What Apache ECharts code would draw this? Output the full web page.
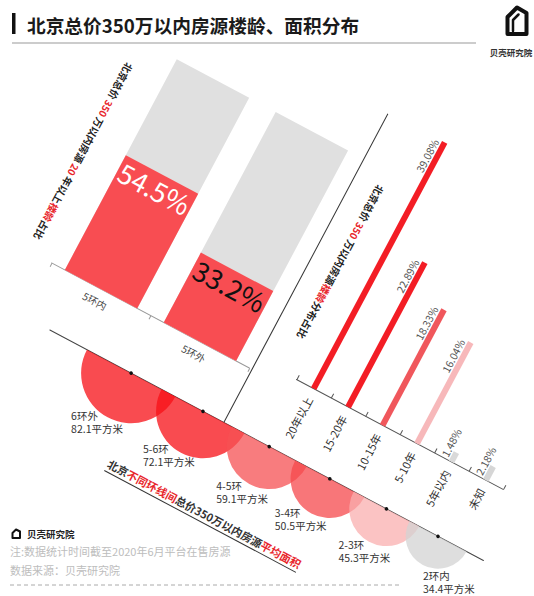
<!DOCTYPE html>
<html><head><meta charset="utf-8">
<script src="https://cdn.jsdelivr.net/npm/echarts@6/dist/echarts.min.js"></script>
<style>
html,body{margin:0;padding:0;width:534px;height:596px;overflow:hidden;background:#fff;}
#base{position:absolute;left:0;top:0;width:534px;height:596px;}
#rot{position:absolute;left:135.24px;top:-41.34px;width:620px;height:500px;transform-origin:0 0;transform:rotate(28deg);}
</style></head><body>
<div id="base"></div><div id="rot"></div>
<script>
// ---------------- data ----------------
const TITLE = '北京总价350万以内房源楼龄、面积分布';
const ringCategories = ['5环内', '5环外'];
const oldShare = [54.5, 33.2];                       // % of listings with building age > 20 years
const ageCategories = ['20年以上', '15-20年', '10-15年', '5-10年', '5年以内', '未知'];
const ageShare = [39.08, 22.89, 18.33, 16.04, 1.48, 2.18];
const areaRings = ['6环外', '5-6环', '4-5环', '3-4环', '2-3环', '2环内'];
const areaValues = [82.1, 72.1, 59.1, 50.5, 45.3, 34.4];  // 平方米

// ---------------- style / layout ----------------
const FONT = '"Noto Sans CJK SC", "Noto Sans", sans-serif';
const RED = '#e8262c';
const TH = 28 * Math.PI / 180, COS = Math.cos(TH), SIN = Math.sin(TH);
const ageColors = ['#f31d25', '#f31d25', '#f0575c', '#f7b8ba', '#d9d9d9', '#d6d6d6'];
const areaColors = ['rgba(247,15,22,0.75)', 'rgba(247,15,22,0.75)', 'rgba(245,80,83,0.75)',
                    'rgba(245,72,76,0.75)', 'rgba(250,175,175,0.75)', 'rgba(211,211,211,0.75)'];
const labelShift = [[-60, 36], [-60, 31], [-53, 32], [-55, 27], [-48, 29], [-15, 33]];

// semicircle area ~ value: radius ~ sqrt(value); circles overlap slightly
const radii = areaValues.map(v => 5.52 * Math.sqrt(v));
const centers = [];
let acc = 42;
radii.forEach((r, i) => { acc += (i === 0 ? r : 0.84 * (radii[i - 1] + r)); centers.push(acc); });

// ---------------- base (unrotated) ----------------
const base = echarts.init(document.getElementById('base'), null, { renderer: 'svg' });
base.setOption({
  backgroundColor: '#fff',
  animation: false,
  graphic: [
    { type: 'rect', shape: { x: 12, y: 13, width: 3.5, height: 21 }, style: { fill: '#111' } },
    { type: 'text', x: 27, y: 24, style: { text: TITLE, fill: '#1a1a1a', font: 'bold 18.7px ' + FONT, verticalAlign: 'middle' } },
    { type: 'line', shape: { x1: 12, y1: 43, x2: 476, y2: 43 }, style: { stroke: '#999', lineWidth: 1 } },
    { type: 'polygon', shape: { points: [[507.5, 34], [507.5, 17], [517, 7.5], [526.5, 13], [526.5, 34]] },
      style: { fill: 'none', stroke: '#111', lineWidth: 4, lineJoin: 'round' } },
    { type: 'polyline', shape: { points: [[513, 31], [513, 20], [518.5, 14.5]] },
      style: { fill: 'none', stroke: '#111', lineWidth: 2.5, lineJoin: 'round', lineCap: 'round' } },
    { type: 'text', x: 511, y: 52, style: { text: '贝壳研究院', fill: '#333', font: 'bold 8.5px ' + FONT, align: 'center', verticalAlign: 'middle' } },
    { type: 'polygon', shape: { points: [[12.5, 538], [12.5, 533], [16, 529.5], [20, 531.5], [20, 538]] },
      style: { fill: 'none', stroke: '#111', lineWidth: 2, lineJoin: 'round' } },
    { type: 'text', x: 27, y: 534, style: { text: '贝壳研究院', fill: '#222', font: 'bold 9.5px ' + FONT, verticalAlign: 'middle' } },
    { type: 'text', x: 10, y: 551, style: { text: '注:数据统计时间截至2020年6月平台在售房源', fill: '#bdbdbd', font: '11px ' + FONT, verticalAlign: 'middle' } },
    { type: 'text', x: 10, y: 570, style: { text: '数据来源：贝壳研究院', fill: '#bdbdbd', font: '11px ' + FONT, verticalAlign: 'middle' } },
    { type: 'line', shape: { x1: 10, y1: 585, x2: 402, y2: 585 }, style: { stroke: '#aaa', lineWidth: 1, lineDash: [4, 3] } }
  ]
});

// ---------------- rotated chart ----------------
const rot = echarts.init(document.getElementById('rot'), null, { renderer: 'svg' });
rot.setOption({
  backgroundColor: 'transparent',
  animation: false,
  grid: [
    { left: 69, top: 69, width: 224, height: 238.5 },
    { left: 340, top: 9.9, width: 234, height: 285.6 },
    { left: 99, top: 367.5, width: 491, height: 100 }
  ],
  xAxis: [
    { gridIndex: 0, type: 'category', data: ringCategories,
      axisLine: { lineStyle: { color: '#999', width: 1 } },
      axisTick: { show: true, length: 4, lineStyle: { color: '#999' } },
      axisLabel: { fontSize: 10, color: '#444', margin: 8, fontFamily: FONT } },
    { gridIndex: 1, type: 'category', data: ageCategories,
      axisLine: { lineStyle: { color: '#555', width: 1 } },
      axisTick: { show: true, inside: true, length: 5, lineStyle: { color: '#555' } },
      axisLabel: { rotate: 90, margin: 10, fontSize: 11, color: '#333', fontFamily: FONT } },
    { gridIndex: 2, type: 'value', min: 0, max: 491, position: 'top',
      axisLine: { show: true, onZero: false, lineStyle: { color: '#444', width: 1 } },
      axisTick: { show: false }, axisLabel: { show: false }, splitLine: { show: false } }
  ],
  yAxis: [
    { gridIndex: 0, type: 'value', min: 0, max: 100, show: false },
    { gridIndex: 1, type: 'value', min: 0, max: 40, show: false },
    { gridIndex: 2, type: 'value', min: 0, max: 100, inverse: true, show: false }
  ],
  series: [
    { type: 'bar', xAxisIndex: 0, yAxisIndex: 0, barWidth: 82,
      data: oldShare.map((v, i) => ({ value: v, label: { color: i === 0 ? '#fff' : '#111' } })),
      itemStyle: { color: '#f84d52' },
      showBackground: true, backgroundStyle: { color: '#e0e0e0' },
      label: { show: true, position: 'insideTop', distance: 2, formatter: '{c}%', fontSize: 27, fontFamily: FONT } },
    { type: 'bar', xAxisIndex: 1, yAxisIndex: 1, barWidth: 6,
      data: ageShare.map((v, i) => {
        const d = { value: v, itemStyle: { color: ageColors[i] } };
        if (v < 5) d.label = { position: 'insideBottomLeft', align: 'left' };
        return d;
      }),
      label: { show: true, position: 'insideTopLeft', distance: 2, rotate: 90, align: 'right', verticalAlign: 'bottom',
               offset: [0, -3], formatter: '{c}%', fontSize: 10.5, color: '#555', fontFamily: FONT } },
    { type: 'custom', xAxisIndex: 2, yAxisIndex: 2, clip: false,
      data: centers.map((c, i) => [c, radii[i], i]),
      renderItem: function (params, api) {
        const i = api.value(2);
        const c = api.coord([api.value(0), 0]);
        const r = api.size([api.value(1), 0])[0];
        const sh = labelShift[i];
        const lx = sh[0] * COS + sh[1] * SIN, ly = -sh[0] * SIN + sh[1] * COS;
        return { type: 'group', children: [
          { type: 'sector', shape: { cx: c[0], cy: c[1], r0: 0, r: r, startAngle: 0, endAngle: Math.PI, clockwise: true },
            style: { fill: areaColors[i] } },
          { type: 'circle', shape: { cx: c[0], cy: c[1], r: 1.8 }, style: { fill: '#111' } },
          { type: 'text', x: c[0] + lx, y: c[1] + ly, rotation: TH,
            style: { text: areaRings[i] + '\n' + areaValues[i] + '平方米', fill: '#333', fontSize: 10.5, fontFamily: FONT,
                     lineHeight: 13, align: 'left', verticalAlign: 'top' } }
        ] };
      } }
  ],
  graphic: [
    { type: 'line', shape: { x1: 296, y1: 18, x2: 296, y2: 367.5 }, style: { stroke: '#333', lineWidth: 1 } },
    { type: 'text', x: 45, y: 194, rotation: -Math.PI / 2,
      style: { text: '北京总价 {r|350} 万以内房源 {r|20} 年以上{r|楼龄}占比', fill: '#222', fontSize: 10, fontWeight: 'bold', fontFamily: FONT,
               align: 'center', verticalAlign: 'middle',
               rich: { r: { fill: RED, fontSize: 10, fontWeight: 'bold', fontFamily: FONT } } } },
    { type: 'text', x: 324, y: 171, rotation: -Math.PI / 2,
      style: { text: '北京总价 {r|350} 万以内房源{r|楼龄}分布占比', fill: '#222', fontSize: 10, fontWeight: 'bold', fontFamily: FONT,
               align: 'center', verticalAlign: 'middle',
               rich: { r: { fill: RED, fontSize: 10, fontWeight: 'bold', fontFamily: FONT } } } },
    { type: 'text', x: 213, y: 457,
      style: { text: '北京{r|不同环线间}总价350万以内房源{r|平均面积}', fill: '#333', fontSize: 11, fontWeight: 'bold', fontFamily: FONT,
               align: 'left', verticalAlign: 'middle',
               rich: { r: { fill: RED, fontSize: 11, fontWeight: 'bold', fontFamily: FONT } } } },
    { type: 'line', shape: { x1: 213, y1: 466, x2: 430, y2: 466 }, style: { stroke: '#333', lineWidth: 1 } }
  ]
});
</script>
</body></html>
